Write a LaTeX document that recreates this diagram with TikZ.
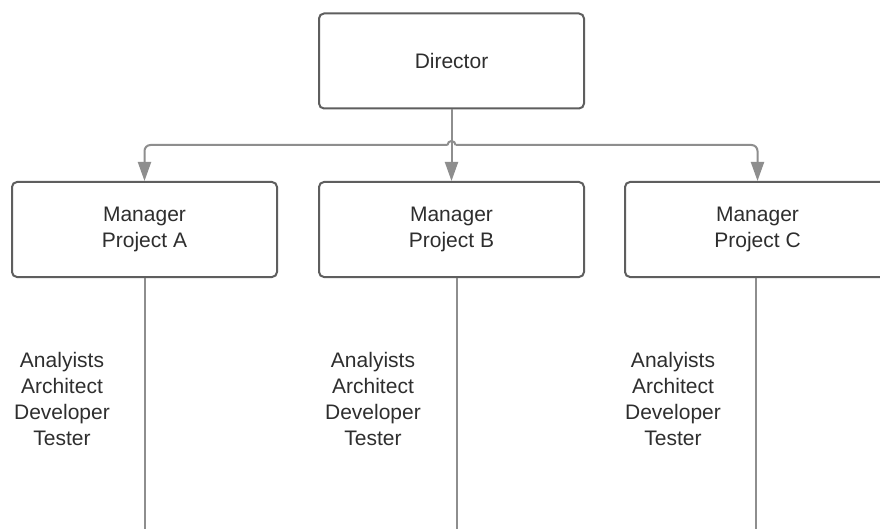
\documentclass[tikz,border=0pt]{standalone}
\usepackage{fontspec}
\setmainfont{Liberation Sans}
\usetikzlibrary{arrows.meta}
\definecolor{boxgray}{HTML}{5E5E5E}
\definecolor{linegray}{HTML}{8E8E8E}
\definecolor{textgray}{HTML}{2E2E2E}
\begin{document}
\begin{tikzpicture}[x=1pt,y=-1pt,
  mbox/.style={draw=boxgray, line width=2pt, rounded corners=5pt, fill=white,
    minimum width=265pt, minimum height=95pt, align=center, text=textgray,
    font=\fontsize{21}{26}\selectfont, inner sep=0pt},
  staff/.style={align=center, text=textgray, font=\fontsize{21}{26}\selectfont, inner sep=0pt},
  conn/.style={draw=linegray, line width=2pt},
  arr/.style={conn, -{Triangle[length=19pt, width=13pt]}}]
\clip (0,0) rectangle (880,529);
\useasboundingbox (0,0) rectangle (880,529);
\fill[white] (0,0) rectangle (880,529);

\node[mbox] (dir) at (451.5,61) {Director};
\node[mbox] (ma) at (144.5,229.5) {Manager\\Project A};
\node[mbox] (mb) at (451.5,229.5) {Manager\\Project B};
\node[mbox] (mc) at (757.5,229.5) {Manager\\Project C};

\coordinate (hl) at (447.5,145);
\coordinate (hr) at (455.5,145);
\draw[arr, rounded corners=6pt] (hl) -| (ma.north);
\draw[arr, rounded corners=6pt] (hr) -| (mc.north);
\draw[conn] (hl) arc[start angle=180, end angle=0, radius=4pt];
\draw[arr] (dir.south) -- (mb.north);

\coordinate (ea) at (144.5,529);
\coordinate (eb) at (457,529);
\coordinate (ec) at (756,529);
\draw[conn] (ma.south) -- (ea);
\draw[conn] (mb.south -| eb) -- (eb);
\draw[conn] (mc.south -| ec) -- (ec);

\node[staff] (sa) at (62,399) {Analyists\\Architect\\Developer\\Tester};
\node[staff] (sb) at (373,399) {Analyists\\Architect\\Developer\\Tester};
\node[staff] (sc) at (673,399) {Analyists\\Architect\\Developer\\Tester};
\end{tikzpicture}
\end{document}
